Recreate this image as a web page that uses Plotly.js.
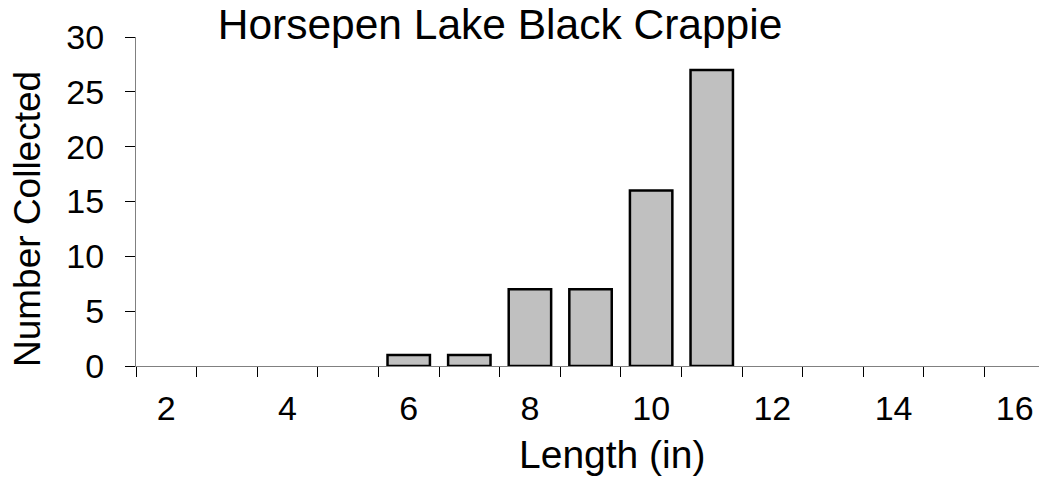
<!DOCTYPE html>
<html>
<head>
<meta charset="utf-8">
<script src="https://cdn.plot.ly/plotly-3.0.1.min.js"></script>
<style>html,body{margin:0;padding:0;background:#fff}#chart{width:1039px;height:480px}</style>
</head>
<body>
<div id="chart"></div>
<script>
var lengths = [2, 3, 4, 5, 6, 7, 8, 9, 10, 11, 12, 13, 14, 15, 16];
var counts  = [0, 0, 0, 0, 1, 1, 7, 7, 16, 27, 0, 0, 0, 0, 0];
var xTickVals = [2, 4, 6, 8, 10, 12, 14, 16];
var xTickText = ['2', '4', '6', '8', '10', '12', '14', '16'];
var yTickVals = [0, 5, 10, 15, 20, 25, 30];

var FONT = 'Liberation Sans, Arial, sans-serif';

var trace = {
  type: 'bar',
  x: lengths,
  y: counts,
  width: 0.7,
  marker: {
    color: '#c0c0c0',
    line: {color: '#000000', width: counts.map(function (v) { return v > 0 ? 2.5 : 0; })}
  },
  hoverinfo: 'x+y'
};

var layout = {
  width: 1039,
  height: 480,
  margin: {l: 136, r: 0, t: 37, b: 114},
  paper_bgcolor: '#ffffff',
  plot_bgcolor: '#ffffff',
  showlegend: false,
  font: {family: FONT, color: '#000000', size: 34},
  title: {
    text: 'Horsepen Lake Black Crappie',
    font: {family: FONT, size: 42.5, color: '#000000'},
    x: 500 / 1039, xanchor: 'center', xref: 'container',
    y: 1 - 9 / 480, yanchor: 'top', yref: 'container'
  },
  xaxis: {
    range: [1.5, 16.4],
    tickmode: 'array',
    tickvals: xTickVals,
    ticktext: xTickText,
    ticks: '',
    showline: true,
    linecolor: '#808080',
    linewidth: 1,
    showgrid: false,
    zeroline: false,
    ticklabelstandoff: 12,
    tickfont: {family: FONT, size: 34, color: '#000000'},
    minor: {tick0: 1.5, dtick: 1, ticks: 'outside', ticklen: 10, tickcolor: '#000000', tickwidth: 1, showgrid: false},
    fixedrange: true
  },
  yaxis: {
    range: [0, 30],
    tickmode: 'array',
    tickvals: yTickVals,
    ticks: 'outside',
    ticklen: 10,
    tickcolor: '#000000',
    tickwidth: 1,
    showline: true,
    linecolor: '#808080',
    linewidth: 1,
    showgrid: false,
    zeroline: false,
    ticklabelstandoff: 14,
    tickfont: {family: FONT, size: 34, color: '#000000'},
    fixedrange: true
  },
  annotations: [
    {
      text: 'Length (in)', xref: 'paper', yref: 'paper',
      x: (612 - 136) / 903, y: -(455 - 366) / 329,
      xanchor: 'center', yanchor: 'middle', showarrow: false,
      font: {family: FONT, size: 39, color: '#000000'}
    },
    {
      text: 'Number Collected', xref: 'paper', yref: 'paper',
      x: -(136 - 27) / 903, y: (366 - 219) / 329,
      xanchor: 'center', yanchor: 'middle', showarrow: false, textangle: -90,
      font: {family: FONT, size: 37, color: '#000000'}
    }
  ]
};

Plotly.newPlot('chart', [trace], layout, {displayModeBar: false, staticPlot: true});
</script>
</body>
</html>
